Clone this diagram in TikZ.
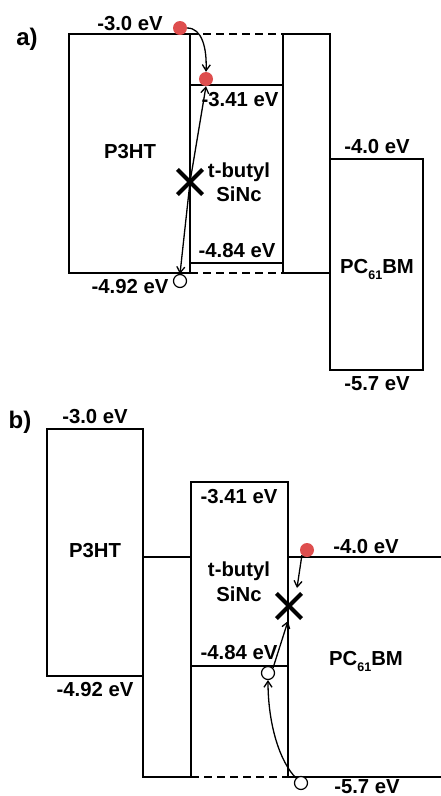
\documentclass[tikz,border=0pt]{standalone}
\usepackage{fontspec}
\setmainfont{Liberation Sans}
\usetikzlibrary{arrows.meta,shapes.misc}
\definecolor{dotred}{RGB}{222,78,78}
\begin{document}
\begin{tikzpicture}[x=1pt,y=-1pt,
  lvl/.style={line width=1.5pt, line cap=rect},
  dashlvl/.style={line width=1.5pt, dash pattern=on 8pt off 5pt},
  lbl/.style={font=\fontsize{20.3}{23}\selectfont\bfseries, inner sep=0pt, anchor=base},
  panel/.style={font=\fontsize{24}{27}\selectfont\bfseries, inner sep=0pt},
  reddot/.style={circle, fill=dotred, minimum size=14pt, inner sep=0pt},
  hole/.style={circle, draw, fill=white, line width=1.2pt, minimum size=13pt, inner sep=0pt},
  xmark/.style={cross out, draw, line width=4.2pt, minimum size=21pt, inner sep=0pt},
  arr/.style={-{Straight Barb[length=6pt,width=8pt]}, line width=1.3pt}]
\useasboundingbox (0,0) rectangle (441,796);

% ---------------- panel a ----------------
\node[panel] (pa) at (27,39) {a)};
\draw[lvl] (69,34) rectangle (190,273);
\draw[lvl] (283,34) rectangle (330,273);
\draw[lvl] (190,85) -- (283,85);
\draw[lvl] (190,263) -- (283,263);
\draw[dashlvl] (190,34) -- (283,34);
\draw[dashlvl] (190,273) -- (283,273);
\draw[lvl] (330,159) rectangle (423,370);

\node[lbl] (a30) at (130,30) {-3.0 eV};
\node[lbl] (ap3) at (130,158) {P3HT};
\node[lbl] (atb) at (239,177) {t-butyl};
\node[lbl] (asi) at (239,201) {SiNc};
\node[lbl] (a341) at (240,106) {-3.41 eV};
\node[lbl] (a484) at (237,257) {-4.84 eV};
\node[lbl] (a492) at (130,293) {-4.92 eV};
\node[lbl] (a40) at (377,153) {-4.0 eV};
\node[lbl] (apc) at (377,273) {PC\raisebox{-0.3em}{\fontsize{12.5}{12}\selectfont 61}BM};
\node[lbl] (a57) at (377,390) {-5.7 eV};

\node[reddot] (ra1) at (180,28) {};
\node[reddot] (ra2) at (206,79) {};
\node[hole] (ha) at (180,281) {};
\node (xa) at (190,182) [inner sep=0pt, minimum size=20pt] {};
\draw[arr] (ra1.east) .. controls (202,28) and (207,48) .. (ra2.north);
\draw[arr] (xa.center) -- (ra2.south);
\draw[arr] (xa.center) -- (ha.north);
\node[xmark] at (xa.center) {};

% ---------------- panel b ----------------
\node[panel] (pb) at (20,422) {b)};
\draw[lvl] (47,429) rectangle (143,676);
\draw[lvl] (143,676) -- (143,777) -- (191,777);
\draw[lvl] (143,557) -- (191,557);
\draw[lvl] (191,777) -- (191,482) -- (288,482) -- (288,777);
\draw[lvl] (191,666) -- (288,666);
\draw[dashlvl] (191,777) -- (288,777);
\draw[lvl] (288,557) -- (441,557);
\draw[lvl] (288,777) -- (441,777);

\node[lbl] (b30) at (95,423) {-3.0 eV};
\node[lbl] (bp3) at (95,557) {P3HT};
\node[lbl] (b341) at (239,503) {-3.41 eV};
\node[lbl] (btb) at (239,576) {t-butyl};
\node[lbl] (bsi) at (239,601) {SiNc};
\node[lbl] (b484) at (239,659) {-4.84 eV};
\node[lbl] (b492) at (95,696) {-4.92 eV};
\node[lbl] (b40) at (366,553) {-4.0 eV};
\node[lbl] (bpc) at (366,665) {PC\raisebox{-0.3em}{\fontsize{12.5}{12}\selectfont 61}BM};
\node[lbl] (b57) at (367,793) {-5.7 eV};

\node[reddot] (rb) at (307,550) {};
\node[hole] (hb1) at (268,673) {};
\node[hole] (hb2) at (301,783) {};
\node (xb) at (289,606) [inner sep=0pt, minimum size=20pt] {};
\coordinate (xbt) at (297,588);
\coordinate (xbb) at (288,621);
\draw[arr] (rb.south west) -- (xbt);
\draw[arr] (hb1.north east) -- (xbb);
\draw[arr] (hb2.north west) .. controls (280,762) and (268,725) .. (hb1.south);
\node[xmark] at (xb.center) {};
\end{tikzpicture}
\end{document}
